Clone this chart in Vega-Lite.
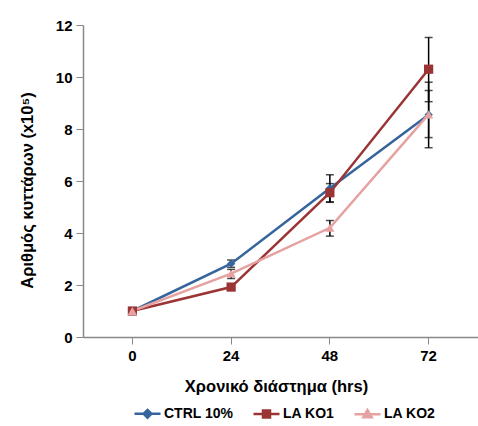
{
  "$schema": "https://vega.github.io/schema/vega-lite/v6.json",
  "width": 395,
  "height": 312,
  "autosize": "none",
  "padding": {"left": 83, "top": 25, "right": 0, "bottom": 89},
  "background": "white",
  "config": {
    "view": {"stroke": null},
    "font": "Liberation Sans",
    "axis": {
      "grid": false,
      "domainColor": "#888888",
      "tickColor": "#888888",
      "domainWidth": 1.5,
      "tickWidth": 1,
      "tickSize": 7,
      "labelFont": "Liberation Sans",
      "labelFontWeight": "bold",
      "labelFontSize": 15,
      "labelColor": "black",
      "titleFont": "Liberation Sans",
      "titleFontWeight": "bold",
      "titleFontSize": 16,
      "titleColor": "black"
    }
  },
  "data": {
    "values": [
      {"series": "CTRL 10%", "time": 0, "value": 1.0, "lo": 0.95, "hi": 1.05},
      {"series": "CTRL 10%", "time": 24, "value": 2.82, "lo": 2.68, "hi": 2.96},
      {"series": "CTRL 10%", "time": 48, "value": 5.72, "lo": 5.18, "hi": 6.24},
      {"series": "CTRL 10%", "time": 72, "value": 8.55, "lo": 7.28, "hi": 9.8},
      {"series": "LA KO1", "time": 0, "value": 1.0, "lo": 0.95, "hi": 1.05},
      {"series": "LA KO1", "time": 24, "value": 1.92, "lo": 1.85, "hi": 1.99},
      {"series": "LA KO1", "time": 48, "value": 5.55, "lo": 5.2, "hi": 5.9},
      {"series": "LA KO1", "time": 72, "value": 10.3, "lo": 9.05, "hi": 11.52},
      {"series": "LA KO2", "time": 0, "value": 1.0, "lo": 0.95, "hi": 1.05},
      {"series": "LA KO2", "time": 24, "value": 2.44, "lo": 2.25, "hi": 2.6},
      {"series": "LA KO2", "time": 48, "value": 4.2, "lo": 3.88, "hi": 4.48},
      {"series": "LA KO2", "time": 72, "value": 8.56, "lo": 7.67, "hi": 9.48}
    ]
  },
  "encoding": {
    "x": {
      "field": "time",
      "type": "ordinal",
      "title": "Χρονικό διάστημα (hrs)",
      "axis": {"labelAngle": 0, "labelPadding": 4, "titlePadding": 15, "titleX": 193, "titleFontSize": 16.5}
    },
    "y": {
      "field": "value",
      "type": "quantitative",
      "title": "Αριθμός κυττάρων (x10⁵)",
      "scale": {"domain": [0, 12]},
      "axis": {"values": [0, 2, 4, 6, 8, 10, 12], "labelPadding": 4, "titlePadding": 20, "titleY": 165, "titleFontSize": 16.5}
    }
  },
  "layer": [
    {
      "mark": {"type": "errorbar", "color": "black", "thickness": 1.5, "ticks": {"size": 8, "thickness": 1.5}},
      "encoding": {
        "y": {"field": "lo", "type": "quantitative", "title": "Αριθμός κυττάρων (x10⁵)"},
        "y2": {"field": "hi"}
      }
    },
    {
      "mark": {"type": "line", "strokeWidth": 2.5},
      "encoding": {
        "color": {
          "field": "series",
          "type": "nominal",
          "scale": {"domain": ["CTRL 10%", "LA KO1", "LA KO2"], "range": ["#35659C", "#9B3535", "#E6A1A1"]},
          "legend": {
            "orient": "none",
            "legendX": 50,
            "legendY": 374,
            "direction": "horizontal",
            "title": null,
            "labelFont": "Liberation Sans",
            "labelFontWeight": "bold",
            "labelFontSize": 14,
            "labelColor": "black",
            "symbolSize": 676,
            "symbolStrokeWidth": 2.5,
            "labelOffset": 2,
            "columnPadding": 14,
            "encode": {
              "symbols": {
                "update": {
                  "shape": {"signal": "datum.value == 'CTRL 10%' ? 'M-1,0H1M0,-0.3L0.3,0L0,0.3L-0.3,0Z' : datum.value == 'LA KO1' ? 'M-1,0H1M-0.27,-0.27H0.27V0.27H-0.27Z' : 'M-1,0H1M0,-0.32L0.32,0.24L-0.32,0.24Z'"},
                  "fill": {"scale": "color", "field": "value"},
                  "stroke": {"scale": "color", "field": "value"},
                  "strokeWidth": {"value": 2.5},
                  "opacity": {"value": 1}
                }
              }
            }
          }
        }
      }
    },
    {
      "transform": [{"filter": "datum.series == 'CTRL 10%'"}],
      "mark": {"type": "point", "filled": true, "opacity": 1, "size": 70, "shape": "diamond"},
      "encoding": {"color": {"field": "series", "type": "nominal"}}
    },
    {
      "transform": [{"filter": "datum.series == 'LA KO1'"}],
      "mark": {"type": "point", "filled": true, "opacity": 1, "size": 85, "shape": "square"},
      "encoding": {"color": {"field": "series", "type": "nominal"}}
    },
    {
      "transform": [{"filter": "datum.series == 'LA KO2'"}],
      "mark": {"type": "point", "filled": true, "opacity": 1, "size": 85, "shape": "triangle-up"},
      "encoding": {"color": {"field": "series", "type": "nominal"}}
    }
  ]
}
